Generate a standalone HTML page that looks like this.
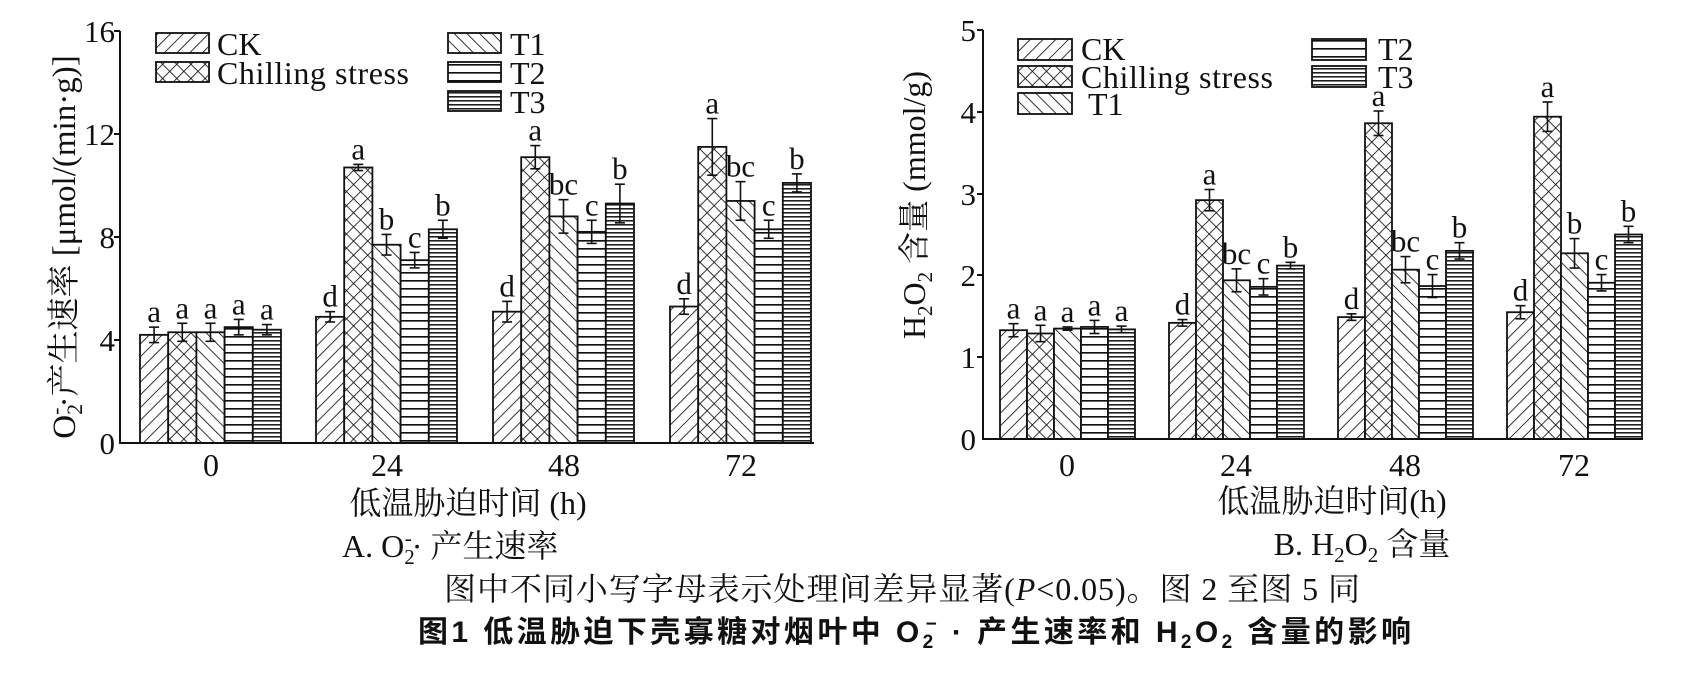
<!DOCTYPE html>
<html><head><meta charset="utf-8">
<style>
html,body{margin:0;padding:0;background:#fff;}
svg{display:block;}
.s{font-family:"Liberation Serif","Noto Serif CJK SC",serif;fill:#111;}
.b{font-family:"Liberation Sans","Noto Sans CJK SC",sans-serif;font-weight:bold;fill:#111;}
</style></head><body>
<svg id="c" width="1695" height="698" viewBox="0 0 1695 698" xmlns="http://www.w3.org/2000/svg">
<defs>
<pattern id="pCK" width="9" height="9" patternUnits="userSpaceOnUse" patternTransform="rotate(45)"><rect width="9" height="9" fill="#fff"/><line x1="0" y1="0" x2="0" y2="9" stroke="#111" stroke-width="1.7"/></pattern>
<pattern id="pCS" width="10" height="10" patternUnits="userSpaceOnUse" patternTransform="rotate(45)"><rect width="10" height="10" fill="#fff"/><line x1="0" y1="0" x2="0" y2="10" stroke="#111" stroke-width="1.7"/><line x1="0" y1="0" x2="10" y2="0" stroke="#111" stroke-width="1.7"/></pattern>
<pattern id="pT1" width="9" height="9" patternUnits="userSpaceOnUse" patternTransform="rotate(-45)"><rect width="9" height="9" fill="#fff"/><line x1="0" y1="0" x2="0" y2="9" stroke="#111" stroke-width="1.7"/></pattern>
<pattern id="pT2" width="8" height="8" patternUnits="userSpaceOnUse"><rect width="8" height="8" fill="#fff"/><line x1="0" y1="0.8" x2="8" y2="0.8" stroke="#111" stroke-width="1.7"/></pattern>
<pattern id="pT3" width="4" height="4" patternUnits="userSpaceOnUse"><rect width="4" height="4" fill="#fff"/><line x1="0" y1="0.8" x2="4" y2="0.8" stroke="#111" stroke-width="1.5"/></pattern>
</defs>
<g id="g"></g>

<g stroke="#111" stroke-width="2" fill="none">
<line x1="120" y1="31" x2="120" y2="444"/><line x1="119" y1="443" x2="814" y2="443"/>
<line x1="114" y1="31" x2="120" y2="31"/><line x1="114" y1="134" x2="120" y2="134"/><line x1="114" y1="237" x2="120" y2="237"/><line x1="114" y1="340" x2="120" y2="340"/>
<line x1="983" y1="30" x2="983" y2="440"/><line x1="982" y1="439" x2="1643" y2="439"/>
<line x1="977" y1="30" x2="983" y2="30"/><line x1="977" y1="112" x2="983" y2="112"/><line x1="977" y1="194" x2="983" y2="194"/><line x1="977" y1="275" x2="983" y2="275"/><line x1="977" y1="357" x2="983" y2="357"/>
</g>
<g class="s" font-size="31" text-anchor="end">
<text x="115" y="42">16</text><text x="115" y="145">12</text><text x="115" y="248">8</text><text x="115" y="351">4</text><text x="115" y="454">0</text>
<text x="976" y="41">5</text><text x="976" y="123">4</text><text x="976" y="205">3</text><text x="976" y="286">2</text><text x="976" y="368">1</text><text x="976" y="450">0</text>
</g>
<g class="s" font-size="32" text-anchor="middle">
<text x="211" y="476">0</text><text x="387" y="476">24</text><text x="564" y="476">48</text><text x="741" y="476">72</text>
<text x="1067" y="476">0</text><text x="1236" y="476">24</text><text x="1405" y="476">48</text><text x="1574" y="476">72</text>
<text x="468" y="514">低温胁迫时间 (h)</text>
<text x="1332" y="512">低温胁迫时间(h)</text>
<text x="1362" y="555">B. H<tspan font-size="21" dy="7">2</tspan><tspan dy="-7">O</tspan><tspan font-size="21" dy="7">2</tspan><tspan dy="-7"> 含量</tspan></text>
</g>
<text class="s" font-size="32" x="342" y="557">A. O<tspan font-size="21" dy="7">2</tspan><tspan font-size="21" dx="-10" dy="-19">-</tspan><tspan dy="12">· 产生速率</tspan></text>
<text class="s" font-size="32" x="444" y="600" textLength="916">图中不同小写字母表示处理间差异显著(<tspan font-style="italic">P</tspan>&lt;0.05)。图 2 至图 5 同</text>
<text class="b" font-size="30" x="418" y="642" textLength="993" lengthAdjust="spacing">图1   低温胁迫下壳寡糖对烟叶中  O<tspan font-size="19" dy="6">2</tspan><tspan font-size="19" dx="-11" dy="-18">−</tspan><tspan dy="12"> · 产生速率和 H</tspan><tspan font-size="19" dy="6">2</tspan><tspan dy="-6">O</tspan><tspan font-size="19" dy="6">2</tspan><tspan dy="-6"> 含量的影响</tspan></text>

<text class="s" font-size="33" transform="translate(75,247) rotate(-90)" text-anchor="middle">O<tspan font-size="22" dy="7">2</tspan><tspan font-size="22" dx="-11" dy="-19">-</tspan><tspan dy="12">·产生速率 [μmol/(min·g)]</tspan></text>
<text class="s" font-size="32" transform="translate(925,205) rotate(-90)" text-anchor="middle">H<tspan font-size="21" dy="7">2</tspan><tspan dy="-7">O</tspan><tspan font-size="21" dy="7">2</tspan><tspan dy="-7"> 含量 (mmol/g)</tspan></text>

<g stroke="#111" stroke-width="1.8">
<rect x="156" y="33" width="53" height="20" fill="url(#pCK)"/>
<rect x="156" y="62" width="53" height="20" fill="url(#pCS)"/>
<rect x="448" y="33" width="53" height="20" fill="url(#pT1)"/>
<rect x="448" y="62" width="53" height="20" fill="url(#pT2)"/>
<rect x="448" y="91" width="53" height="20" fill="url(#pT3)"/>
<rect x="1018" y="39" width="54" height="21" fill="url(#pCK)"/>
<rect x="1018" y="66" width="54" height="21" fill="url(#pCS)"/>
<rect x="1018" y="93" width="54" height="21" fill="url(#pT1)"/>
<rect x="1312" y="39" width="54" height="21" fill="url(#pT2)"/>
<rect x="1312" y="66" width="54" height="21" fill="url(#pT3)"/>
</g>
<g class="s" font-size="32">
<text x="217" y="55">CK</text><text x="217" y="84" textLength="192">Chilling stress</text>
<text x="510" y="55">T1</text><text x="510" y="84">T2</text><text x="510" y="113">T3</text>
<text x="1081" y="60">CK</text><text x="1081" y="88" textLength="192">Chilling stress</text><text x="1088" y="115">T1</text>
<text x="1378" y="60">T2</text><text x="1378" y="88">T3</text>
</g>
</svg>
<script>
var P=["pCK","pCS","pT1","pT2","pT3"];
function draw(x0s,bw,y0,ppu,vals,errs,labs){
 var g=document.getElementById("g"),s="";
 for(var i=0;i<4;i++)for(var j=0;j<5;j++){
  var x=x0s[i]+j*bw,v=vals[i][j],e=errs[i][j],top=y0-v*ppu,cx=x+bw/2;
  s+='<rect x="'+x+'" y="'+top+'" width="'+bw+'" height="'+(v*ppu)+'" fill="url(#'+P[j]+')" stroke="#111" stroke-width="1.8"/>';
  var t=top-e*ppu,b=top+e*ppu;
  s+='<g stroke="#111" stroke-width="1.6"><line x1="'+cx+'" y1="'+t+'" x2="'+cx+'" y2="'+b+'"/><line x1="'+(cx-5)+'" y1="'+t+'" x2="'+(cx+5)+'" y2="'+t+'"/><line x1="'+(cx-5)+'" y1="'+b+'" x2="'+(cx+5)+'" y2="'+b+'"/></g>';
  s+='<text class="s" font-size="31" text-anchor="middle" x="'+cx+'" y="'+(t-5)+'">'+labs[i][j]+'</text>';
 }
 g.innerHTML+=s;
}
draw([140,316,493,670],28.2,443,25.75,
 [[4.2,4.3,4.3,4.5,4.4],[4.9,10.7,7.7,7.1,8.3],[5.1,11.1,8.8,8.2,9.3],[5.3,11.5,9.4,8.3,10.1]],
 [[0.3,0.35,0.35,0.3,0.2],[0.2,0.12,0.4,0.3,0.35],[0.4,0.45,0.65,0.45,0.75],[0.3,1.1,0.75,0.35,0.35]],
 [["a","a","a","a","a"],["d","a","b","c","b"],["d","a","bc","c","b"],["d","a","bc","c","b"]]);
draw([1000,1169,1338,1507],27,439,81.8,
 [[1.33,1.29,1.35,1.37,1.34],[1.42,2.92,1.94,1.86,2.12],[1.49,3.86,2.07,1.87,2.30],[1.55,3.94,2.27,1.91,2.50]],
 [[0.08,0.1,0.02,0.08,0.04],[0.04,0.13,0.14,0.1,0.04],[0.04,0.15,0.16,0.14,0.1],[0.08,0.18,0.18,0.1,0.1]],
 [["a","a","a","a","a"],["d","a","bc","c","b"],["d","a","bc","c","b"],["d","a","b","c","b"]]);
</script>
</body></html>
